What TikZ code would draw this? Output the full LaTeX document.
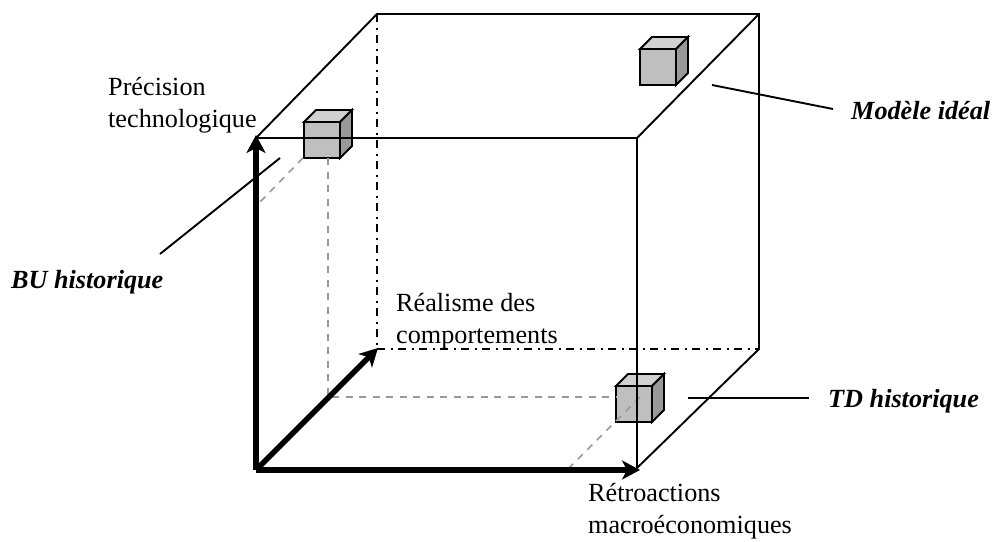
\documentclass[tikz,border=0pt]{standalone}
\usepackage{fontspec}
\setmainfont{Liberation Serif}
\usetikzlibrary{arrows.meta}
\tikzset{
  edge/.style={line width=1.9pt,black},
  dashdot/.style={line width=1.9pt,black,dash pattern=on 8pt off 5.5pt on 2pt off 5.5pt},
  guide/.style={line width=1.6pt,black!40,dash pattern=on 7pt off 6.5pt},
  axis/.style={line width=5.5pt,black,-{Stealth[length=18pt,width=19pt,inset=5pt]}},
  lbl/.style={font=\fontsize{26.2}{32}\selectfont,inner sep=0pt,align=left,anchor=base west},
  tag/.style={font=\fontsize{26.2}{32}\selectfont\bfseries\itshape,inner sep=0pt,anchor=base west},
  face/.style={draw=black,line width=1.9pt,line join=miter}
}
\newcommand{\minicube}[2]{%
  \fill[face,fill=black!25] (#1,#2) rectangle (#1+36,#2+36);
  \fill[face,fill=black!18] (#1,#2) -- (#1+12,#2-12) -- (#1+48,#2-12) -- (#1+36,#2) -- cycle;
  \fill[face,fill=black!40] (#1+36,#2) -- (#1+48,#2-12) -- (#1+48,#2+24) -- (#1+36,#2+36) -- cycle;
}
\begin{document}
\begin{tikzpicture}[x=1pt,y=-1pt]
\useasboundingbox (0,0) rectangle (996,541);
% cube corners
\coordinate (ftl) at (256,138);
\coordinate (ftr) at (637,138);
\coordinate (fbr) at (637,468);
\coordinate (btl) at (377,14);
\coordinate (btr) at (759,14);
\coordinate (bbl) at (377,349);
\coordinate (bbr) at (759,349);
\coordinate (org) at (256,470);
\coordinate (ax1) at (256,135);
\coordinate (ax2) at (640,470);
\coordinate (ax3) at (378,348);
% minicubes
\minicube{304}{122}
\minicube{640}{49}
\minicube{616}{386}
% guides
\coordinate (g1) at (303,158);
\coordinate (g2) at (260,202);
\coordinate (g3) at (328,158);
\coordinate (g4) at (328,397);
\coordinate (g5) at (616,397);
\coordinate (g6) at (640,397);
\coordinate (g7) at (568,469);
\draw[guide] (g1) -- (g2);
\draw[guide] (g3) -- (g4) -- (g5);
\draw[guide] (g6) -- (g7);
% hidden edges
\draw[dashdot] (btl) -- (bbl);
\draw[dashdot] (bbl) -- (bbr);
% visible edges
\draw[edge] (ftl) -- (btl) -- (btr) -- (bbr) -- (fbr) -- (ftr) -- (ftl);
\draw[edge] (ftr) -- (btr);
% axes
\draw[axis] (org) -- (ax1);
\draw[axis] (org) -- (ax2);
\draw[axis] (org) -- (ax3);
% leaders
\coordinate (m1) at (712,85);
\coordinate (m2) at (833,109);
\coordinate (b1) at (280,158);
\coordinate (b2) at (160,254);
\coordinate (t1) at (688,398);
\coordinate (t2) at (809,398);
\draw[edge] (m1) -- (m2);
\draw[edge] (b1) -- (b2);
\draw[edge] (t1) -- (t2);
% labels
\node[lbl] (l1) at (108,127) {Précision\\technologique};
\node[lbl] (l2) at (396,343) {Réalisme des\\comportements};
\node[lbl] (l3) at (588,533) {Rétroactions\\macroéconomiques};
\node[tag] (tm) at (851,119) {Modèle idéal};
\node[tag] (tb) at (11,288) {BU historique};
\node[tag] (tt) at (828,407) {TD historique};
\end{tikzpicture}
\end{document}
